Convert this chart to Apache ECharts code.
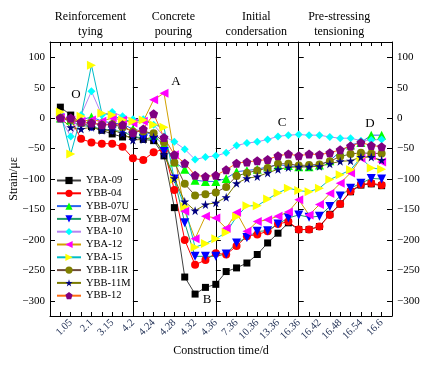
<!DOCTYPE html>
<html><head><meta charset="utf-8">
<script src="https://cdn.jsdelivr.net/npm/echarts@6/dist/echarts.min.js"></script>
<style>html,body{margin:0;padding:0;background:#fff}#c{width:430px;height:366px}</style>
</head><body><div id="c"></div>
<script>
// x positions 0..33 ; labels at even positions
const xLabels = ['', '', '1.05', '', '2.1', '', '3.15', '', '4.2', '', '4.24', '', '4.28', '', '4.32', '', '4.36', '', '7.36', '', '10.36', '', '13.36', '', '16.36', '', '16.42', '', '16.48', '', '16.54', '', '16.6', ''];
const phaseTitles = ['Reinforcement\ntying', 'Concrete\npouring', 'Initial\ncondersation', 'Pre-stressing\ntensioning'];
const yTicks = [-300, -250, -200, -150, -100, -50, 0, 50, 100];
const seriesNames = ['YBA-09', 'YBB-04', 'YBB-07U', 'YBB-07M', 'YBA-10', 'YBA-12', 'YBA-15', 'YBB-11R', 'YBB-11M', 'YBB-12'];
// values at positions 1..32
const YBA09  = [18, 5, -8, -14, -20, -26, -31, -30, -35, -37, -62, -147, -261, -289, -278, -273, -252, -246, -238, -224, -205, -189, -172, -183, -183, -178, -158, -141, -121, -110, -108, -111];
const YBB04  = [0, -2, -34, -40, -42, -42, -47, -66, -69, -56, -51, -118, -200, -241, -233, -222, -224, -210, -194, -191, -186, -174, -170, -183, -183, -178, -159, -141, -120, -109, -107, -110];
const YBB07U = [0, -3, -3, 2, -5, -8, -10, -18, -22, -28, -45, -72, -84, -102, -104, -104, -99, -88, -86, -84, -80, -77, -78, -80, -80, -77, -70, -55, -44, -40, -28, -28];
const YBB07M = [0, -5, -12, -14, -18, -20, -22, -30, -33, -35, -55, -100, -172, -227, -227, -227, -223, -205, -196, -186, -185, -174, -164, -159, -163, -161, -145, -128, -115, -107, -99, -100];
const YBA10  = [0, -30, 5, 44, 5, 10, 3, -2, -2, -11, -30, -39, -51, -68, -64, -62, -57, -45, -41, -39, -35, -30, -28, -27, -28, -28, -31, -33, -33, -37, -36, -35];
const YBA12  = [0, -3, -5, -3, -5, 0, -3, -8, -5, 30, 41, -60, -153, -198, -161, -164, -181, -155, -186, -170, -167, -161, -154, -134, -159, -142, -124, -107, -90, -66, -62, -72];
const YBA15  = [10, -59, 3, 87, 8, 5, -3, -5, -3, -11, -15, -101, -145, -212, -206, -198, -188, -162, -144, -144, -133, -123, -115, -119, -121, -115, -101, -93, -85, -65, -82, -84];
const YBB11R = [0, -3, -8, -8, -11, -10, -15, -22, -22, -25, -40, -73, -108, -127, -125, -122, -113, -95, -90, -86, -82, -75, -75, -78, -77, -76, -71, -63, -59, -57, -58, -58];
const YBB11M = [0, -15, -18, -15, -20, -20, -25, -36, -35, -31, -60, -99, -137, -152, -142, -139, -130, -107, -99, -96, -90, -84, -81, -80, -80, -79, -75, -71, -70, -64, -64, -69];
const YBB12  = [0, 0, -6, -8, -11, -11, -11, -24, -18, 7, -32, -60, -74, -94, -96, -94, -85, -74, -72, -70, -68, -62, -59, -62, -59, -60, -57, -52, -46, -40, -45, -47];
const seriesValues = [YBA09, YBB04, YBB07U, YBB07M, YBA10, YBA12, YBA15, YBB11R, YBB11M, YBB12];

const markerColors = ['#000000', '#ff0000', '#00ff00', '#0000ff', '#00ffff', '#ff00ff', '#ffff00', '#808000', '#000080', '#800080'];
const lineColors = ['#404040', '#ff0000', '#2a62f0', '#1f9a6a', '#b583f0', '#d2a000', '#00bcc8', '#6e4b3c', '#7a7a00', '#ff6a10'];
const symbols = ['rect', 'circle', 'triangle',
  'path://M0,0 L100,0 L50,90 Z',
  'diamond',
  'path://M0,50 L90,0 L90,100 Z',
  'path://M90,50 L0,0 L0,100 Z',
  'circle',
  'path://M50,0 L61,35 L98,35 L68,57 L79,91 L50,70 L21,91 L32,57 L2,35 L39,35 Z',
  'path://M50,0 L98,35 L79,91 L21,91 L2,35 Z'];
const symbolSizes = [7, 8, 9, 9, 8, 9, 9, 8, 9, 9];

const FONT = '"Liberation Serif", "DejaVu Serif", serif';
const gridL = 50, gridR = 38, gridT = 42, gridB = 50;
const gridW = 430 - gridL - gridR;
const nPos = xLabels.length - 1;

const chart = echarts.init(document.getElementById('c'), null, {renderer: 'canvas'});
const yFmt = v => String(v).replace('-', '\u2212');
const baseY = {
  type: 'value', min: -325, max: 125,
  splitLine: {show: false},
  axisLine: {show: true, lineStyle: {color: '#000', width: 1}},
  axisTick: {show: true, inside: true, length: 5, customValues: yTicks, lineStyle: {color: '#000'}},
  axisLabel: {show: true, customValues: yTicks, formatter: yFmt, color: '#000', fontFamily: FONT, fontSize: 11, margin: 5}
};
const yAxes = [
  Object.assign({}, baseY, {position: 'left', name: 'Strain/\u03bc\u03b5', nameLocation: 'middle', nameGap: 30, nameRotate: 90,
    nameMoveOverlap: false,
    nameTextStyle: {color: '#000', fontFamily: FONT, fontSize: 12}}),
  Object.assign({}, baseY, {position: 'right'})
];
[8, 16, 24].forEach(p => {
  yAxes.push(Object.assign({}, baseY, {position: 'left', offset: -gridW * p / nPos,
    axisLabel: {show: false}}));
});

const graphics = [];
const panelCenters = [0, 1, 2, 3].map(i => gridL + gridW * (i * 8 + 4) / nPos);
phaseTitles.forEach((t, i) => {
  graphics.push({type: 'text', x: panelCenters[i] - 1, y: 9, style: {text: t, textAlign: 'center', font: '12px ' + FONT, fill: '#000', lineHeight: 15}});
});
const notes = [['O', 76, 95], ['A', 176, 82], ['B', 207, 300], ['C', 282, 123], ['D', 370, 124]];
notes.forEach(n => graphics.push({type: 'text', x: n[1], y: n[2], style: {text: n[0], textAlign: 'center', textVerticalAlign: 'middle', font: '13px ' + FONT, fill: '#000'}}));

const cats = xLabels.map((_, i) => String(i));
const series = seriesNames.map((name, k) => ({
  name, type: 'line', yAxisIndex: 0,
  data: ['-'].concat(seriesValues[k]),
  symbol: symbols[k], symbolSize: symbolSizes[k],
  itemStyle: {color: markerColors[k]},
  lineStyle: {color: lineColors[k], width: 1},
  emphasis: {disabled: true}
}));

chart.setOption({
  animation: false,
  backgroundColor: '#fff',
  grid: {left: gridL, right: gridR, top: gridT, bottom: gridB, containLabel: false, outerBoundsMode: 'none'},
  xAxis: [{
    type: 'category', data: cats, boundaryGap: false, position: 'bottom',
    name: 'Construction time/d', nameLocation: 'middle', nameGap: 29, nameMoveOverlap: false,
    nameTextStyle: {color: '#000', fontFamily: FONT, fontSize: 12},
    axisLine: {onZero: false, lineStyle: {color: '#000'}},
    axisTick: {inside: true, length: 4, interval: 0, lineStyle: {color: '#000'}},
    axisLabel: {interval: 0, rotate: 45, formatter: (v, i) => xLabels[i], color: '#1a2a50', fontFamily: FONT, fontSize: 10.5, margin: 5},
    splitLine: {show: false}
  }, {
    type: 'category', data: cats, boundaryGap: false, position: 'top',
    axisLine: {onZero: false, lineStyle: {color: '#000'}},
    axisTick: {inside: true, length: 4, interval: 0, lineStyle: {color: '#000'}},
    axisLabel: {show: false}, splitLine: {show: false}
  }],
  yAxis: yAxes,
  legend: {
    orient: 'vertical', left: 56, top: 175, padding: 0,
    itemWidth: 24, itemHeight: 9, itemGap: 1.8,
    textStyle: {color: '#000', fontFamily: FONT, fontSize: 10.5},
    data: seriesNames
  },
  graphic: graphics,
  series
});
</script></body></html>
